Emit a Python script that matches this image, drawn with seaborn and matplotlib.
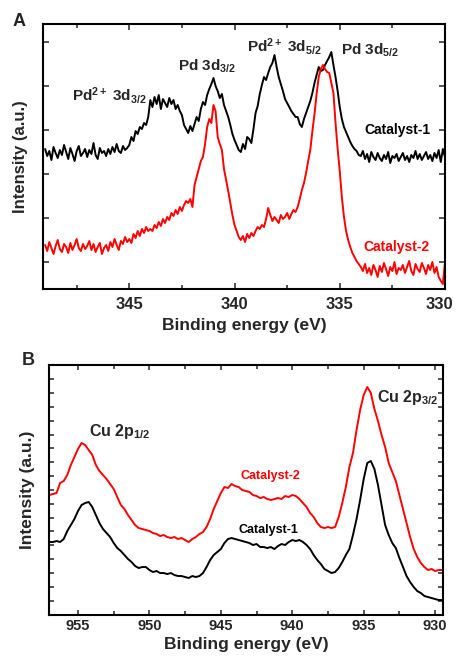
import numpy as np
import pandas as pd
import seaborn as sns
from matplotlib import pyplot as plt
from matplotlib.ticker import MultipleLocator
from matplotlib.transforms import ScaledTranslation

# ---- panel A: Pd 3d, 349.0 -> 330.0 eV, 0.1 eV step ----
pd_energy = np.round(np.linspace(349.0, 330.0, 191), 1)
pd_cat1 = [
    140, 133, 138, 129, 142, 136, 131, 139, 134, 144,   # 349
    137, 130, 141, 135, 128, 138, 143, 133, 136, 140,   # 348
    132, 139, 135, 146, 134, 130, 141, 136, 138, 133,   # 347
    140, 135, 142, 137, 145, 138, 136, 143, 139, 141,   # 346
    144, 152, 148, 158, 155, 162, 160, 166, 164, 172,   # 345
    189, 182, 192, 185, 194, 180, 190, 186, 182, 191,   # 344
    185, 189, 180, 184, 178, 174, 164, 160, 156, 163,   # 343
    158, 165, 172, 168, 180, 187, 184, 194, 200, 205,   # 342
    211, 203, 198, 191, 195, 184, 178, 172, 164, 155,   # 341
    149, 144, 139, 137, 145, 140, 152, 150, 146, 160,   # 340
    176, 183, 195, 204, 212, 209, 216, 222, 226, 234,   # 339
    222, 212, 205, 198, 190, 186, 182, 178, 175, 172,   # 338
    172, 165, 162, 170, 176, 182, 188, 196, 206, 214,   # 337
    222, 218, 219, 224, 228, 232, 237, 224, 212, 198,   # 336
    182, 170, 162, 157, 152, 147, 143, 140, 138, 134,   # 335
    133, 138, 130, 135, 127, 137, 132, 129, 136, 131,   # 334
    128, 134, 130, 137, 126, 133, 131, 135, 128, 132,   # 333
    136, 129, 133, 127, 134, 131, 138, 130, 135, 129,   # 332
    133, 137, 130, 134, 128, 136, 131, 139, 127, 140,   # 331
    132,
]
pd_cat2 = [
    44, 38, 47, 41, 35, 43, 49, 40, 37, 45,
    42, 36, 46, 39, 44, 50, 41, 38, 45, 40,
    43, 48, 39, 45, 37, 42, 46, 35, 41, 44,
    38, 47, 42, 50, 44, 39, 48, 45, 52, 47,
    50, 46, 55, 51, 58, 53, 60, 56, 62, 58,
    60, 58, 64, 61, 67, 63, 70, 66, 72, 69,
    76, 73, 79, 75, 82, 78, 84, 88, 86, 90,
    82, 104, 112, 120, 128, 132, 145, 162, 170, 166,
    184, 178, 152, 145, 139, 120, 109, 98, 86, 74,
    64, 58, 52, 49, 53, 47, 55, 51, 56, 53,
    58, 62, 60, 64, 62, 70, 81, 74, 68, 72,
    69, 66, 74, 70, 72, 76, 70, 75, 79, 77,
    82, 90, 99, 106, 116, 128, 139, 158, 175, 195,
    212, 220, 224, 220, 217, 216, 206, 196, 166, 140,
    118, 92, 72, 58, 49, 42, 36, 32, 28, 25,
    22, 18, 25, 16, 21, 14, 24, 19, 12, 23,
    17, 26, 20, 13, 22, 18, 27, 15, 21, 19,
    24, 16, 22, 28, 18, 14, 25, 20, 17, 26,
    21, 15, 24, 19, 27, 16, 22, 12, 8, 5,
    27,
]

# ---- panel B: Cu 2p, 957.0 -> 929.5 eV, 0.25 eV step ----
cu_energy = np.linspace(957.0, 929.5, 111)
cu_cat1 = [
    73, 73, 74, 73,  76, 84, 90, 96,  104, 110, 112, 113,      # 957-954.25
    108, 100, 92, 86,  82, 78, 72, 67,  64, 60, 56, 53,        # 954-951.25
    49, 47, 48, 48,  45, 43, 44, 42,  42, 41, 42, 40,          # 951-948.25
    39, 39, 38, 37,  39, 38, 39, 42,  48, 55, 60, 63,          # 948-945.25
    66, 72, 76, 77,  76, 75, 74, 73,  72, 70, 71, 68,          # 945-942.25
    68, 67, 68, 66,  69, 71, 70, 73,  75, 74, 75, 73,          # 942-939.25
    70, 66, 60, 55,  51, 46, 44, 42,  43, 47, 53, 60,          # 939-936.25
    66, 80, 96, 115,  136, 152, 154, 146,  130, 110, 90, 80,   # 936-933.25
    72, 67, 57, 48,  39, 33, 28, 24,  22, 19, 18, 17,          # 933-930.25
    16, 15, 15,
]
cu_cat2 = [
    120, 121, 122, 132,  134, 140, 150, 158,  166, 172, 170, 165,
    160, 150, 144, 140,  136, 131, 126, 118,  110, 106, 100, 95,
    90, 87, 86, 85,  84, 82, 81, 79,  80, 78, 77, 78,
    76, 77, 75, 73,  76, 78, 81, 83,  88, 96, 106, 114,
    122, 128, 127, 131,  129, 128, 125, 124,  123, 120, 119, 117,
    118, 116, 115, 116,  117, 116, 119, 118,  120, 119, 116, 112,
    108, 102, 98, 92,  88, 87, 88, 87,  88, 98, 112, 128,
    148, 162, 185, 205,  220, 228, 222, 206,  194, 180, 168, 152,
    143, 134, 120, 106,  92, 78, 66, 58,  52, 48, 45, 46,
    44, 45, 45,
]

series_names = ['Catalyst-1', 'Catalyst-2']
series_colors = ['black', 'red']

sns.set_style('ticks')
plt.rcParams['font.family'] = ['Liberation Sans', 'DejaVu Sans']
plt.rcParams['font.weight'] = 'bold'
plt.rcParams['axes.labelweight'] = 'bold'
plt.rcParams['mathtext.fontset'] = 'custom'
plt.rcParams['mathtext.rm'] = 'Liberation Sans:bold'
plt.rcParams['mathtext.it'] = 'Liberation Sans:bold'
plt.rcParams['mathtext.bf'] = 'Liberation Sans:bold'
plt.rcParams['mathtext.sf'] = 'Liberation Sans:bold'

fig = plt.figure(figsize=(4.57, 6.58), dpi=100)
axA = fig.add_axes([0.0941, 0.5608, 0.8796, 0.4027])
axB = fig.add_axes([0.1072, 0.0653, 0.8621, 0.38])

dfA = pd.DataFrame({'energy': pd_energy, series_names[0]: pd_cat1, series_names[1]: pd_cat2})
dfB = pd.DataFrame({'energy': cu_energy, series_names[0]: cu_cat1, series_names[1]: cu_cat2})

for ax, df in [(axA, dfA), (axB, dfB)]:
    for name, col in zip(series_names, series_colors):
        sns.lineplot(data=df, x='energy', y=name, color=col, lw=1.4, ax=ax, legend=False)
    for s in ax.spines.values():
        s.set_linewidth(1.5)
        s.set_color('black')
    ax.tick_params(which='both', direction='in', top=True, right=True, width=1.1,
                   labelleft=False)
    ax.xaxis.set_major_locator(MultipleLocator(5))
    ax.xaxis.set_minor_locator(MultipleLocator(2.5))
    ax.set_xlabel('Binding energy (eV)')
    ax.set_ylabel('Intensity (a.u.)')

# panel A
axA.set_xlim(349.1, 330)
axA.set_ylim(0, 265)
axA.set_yticks(np.arange(27, 265, 44))
axA.tick_params(which='major', length=4, pad=6, labelsize=12)
axA.tick_params(which='minor', length=3)
axA.xaxis.label.set_size(12.5)
axA.yaxis.label.set_size(12)
axA.yaxis.labelpad = 11
axA.xaxis.labelpad = 4

axA.text(347.72, 188, r'Pd$^{2+}$ 3d$_{3/2}$', fontsize=11, va='baseline')
axA.text(342.67, 218, r'Pd 3d$_{3/2}$', fontsize=11, va='baseline')
axA.text(339.43, 237, r'Pd$^{2+}$ 3d$_{5/2}$', fontsize=11, va='baseline')
axA.text(334.96, 234, r'Pd 3d$_{5/2}$', fontsize=11, va='baseline')
axA.text(332.24, 159, 'Catalyst-1', color='black', fontsize=10, ha='center', va='center')
axA.text(332.29, 42, 'Catalyst-2', color='red', fontsize=10, ha='center', va='center')
fig.text(0.028, 0.968, 'A', fontsize=13, ha='left', va='center')

# panel B
axB.set_xlim(957.03, 929.45)
axB.set_ylim(0, 250)
axB.set_yticks(np.arange(14.3, 250, 13.85))
axB.tick_params(which='major', length=3.5, pad=3, labelsize=10.5)
axB.tick_params(which='minor', length=3)
axB.xaxis.label.set_size(12.5)
axB.yaxis.label.set_size(12.5)
axB.yaxis.labelpad = 10
axB.xaxis.labelpad = 3

axB.text(954.23, 179, r'Cu 2p$_{1/2}$', fontsize=11.5, va='baseline')
axB.text(934.06, 213, r'Cu 2p$_{3/2}$', fontsize=11.5, va='baseline')
axB.text(941.55, 139, 'Catalyst-2', color='red', fontsize=9, ha='center', va='center')
axB.text(941.7, 85, 'Catalyst-1', color='black', fontsize=9, ha='center', va='center')
fig.text(0.048, 0.4514, 'B', fontsize=13, ha='left', va='center')

# nudge the "330" label of panel A a little left so it stays inside the figure
fig.canvas.draw()
for tick in axA.xaxis.get_major_ticks():
    if abs(tick.get_loc() - 330) < 1e-6:
        lab = tick.label1
        lab.set_transform(lab.get_transform() + ScaledTranslation(-4 / 72, 0, fig.dpi_scale_trans))

fig.savefig('out.png', dpi=100)
